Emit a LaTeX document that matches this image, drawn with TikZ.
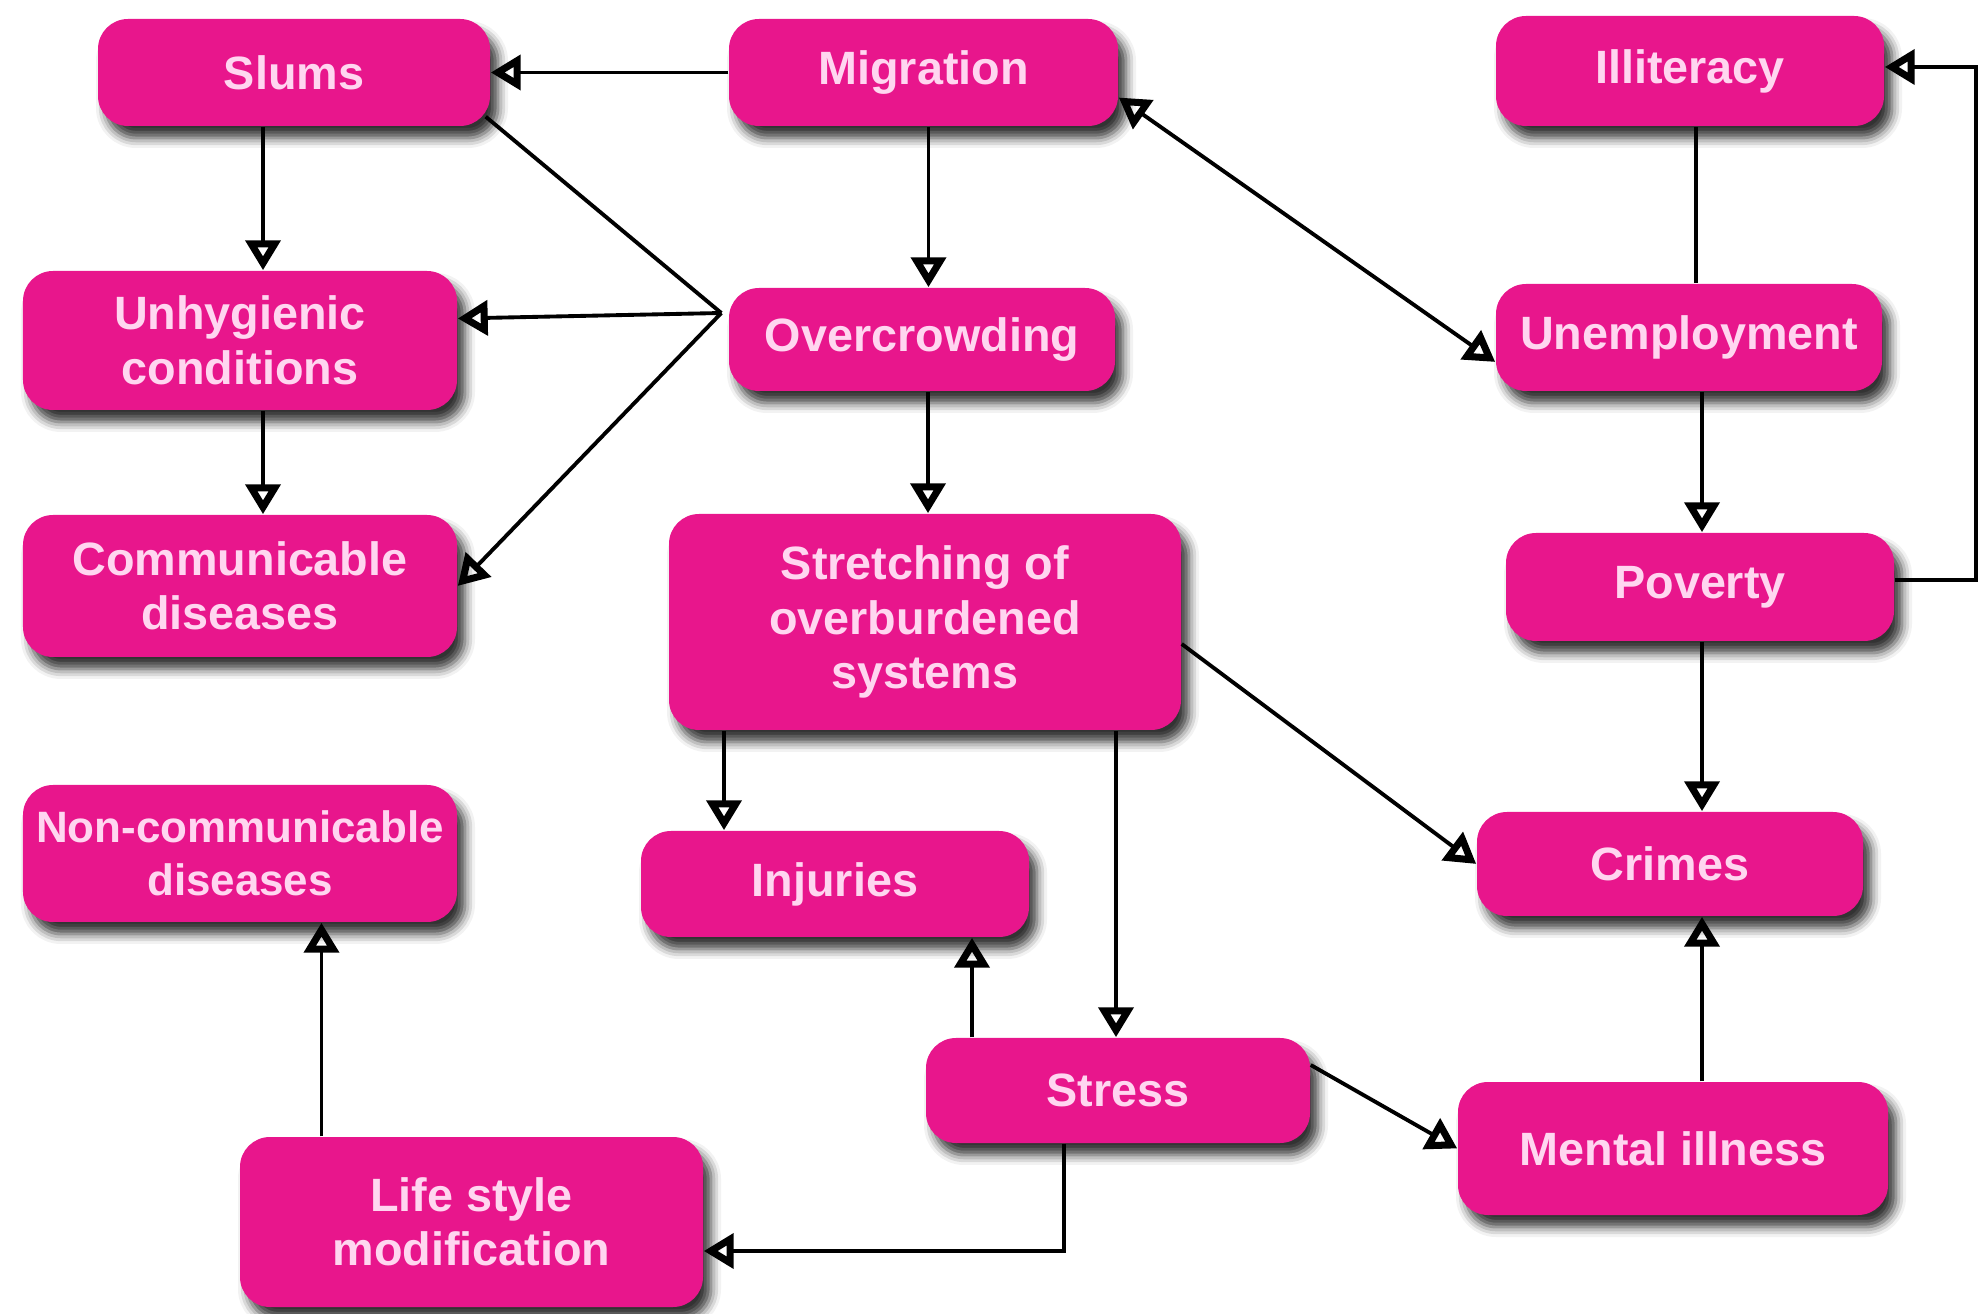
\documentclass[tikz,border=0pt]{standalone}
\usepackage{fontspec}
\setmainfont{Liberation Sans}
\usetikzlibrary{arrows.meta,shadows.blur,calc}
\definecolor{boxpink}{RGB}{232,22,140}
\definecolor{textpink}{RGB}{255,214,240}

\begin{document}
\begin{tikzpicture}[
            >={Triangle[open,length=0.3cm,width=0.34cm,line width=2pt]},
            box/.style={fill=boxpink,rounded corners=0.3cm,text=textpink,align=center,inner sep=0pt,
                font=\fontsize{13.3}{15.5}\selectfont\bfseries,
                blur shadow={shadow xshift=0.08cm,shadow yshift=-0.12cm,shadow blur radius=0.1cm,shadow opacity=80}},
            link/.style={line width=1.1pt}]
            \useasboundingbox (0,0) rectangle (19.8,13.13);

            \node[box,minimum width=3.92cm,minimum height=1.07cm] (slums) at (2.94,12.405) {Slums};
            \node[box,minimum width=3.89cm,minimum height=1.07cm] (migr) at (9.235,12.405) {Migration};
            \node[box,minimum width=3.88cm,minimum height=1.10cm] (illit) at (16.90,12.42) {Illiteracy};
            \node[box,minimum width=4.34cm,minimum height=1.39cm] (unhyg) at (2.40,9.725) {Unhygienic\\conditions};
            \node[box,minimum width=3.86cm,minimum height=1.03cm] (crowd) at (9.22,9.735) {Overcrowding};
            \node[box,minimum width=3.86cm,minimum height=1.07cm] (unemp) at (16.89,9.755) {Unemployment};
            \node[box,minimum width=4.34cm,minimum height=1.42cm] (commun) at (2.40,7.27) {Communicable\\diseases};
            \node[box,minimum width=5.12cm,minimum height=2.16cm] (stretch) at (9.25,6.91) {Stretching of\\overburdened\\systems};
            \node[box,minimum width=3.88cm,minimum height=1.08cm] (pov) at (17.00,7.26) {Poverty};
            \node[box,minimum width=4.34cm,minimum height=1.37cm,font=\fontsize{12.5}{15}\selectfont\bfseries] (noncomm) at (2.40,4.595) {Non-communicable\\diseases};
            \node[box,minimum width=3.88cm,minimum height=1.06cm] (injur) at (8.35,4.29) {Injuries};
            \node[box,minimum width=3.86cm,minimum height=1.04cm] (crimes) at (16.70,4.49) {Crimes};
            \node[box,minimum width=3.84cm,minimum height=1.05cm] (stress) at (11.18,2.225) {Stress};
            \node[box,minimum width=4.30cm,minimum height=1.33cm] (mental) at (16.73,1.645) {Mental illness};
            \node[box,minimum width=4.63cm,minimum height=1.70cm] (life) at (4.715,0.91) {Life style\\modification};

            \coordinate (hub) at ([xshift=-0.07cm,yshift=0.265cm]crowd.west);
            \coordinate (rim) at (19.76,7.33);

            \draw[link,->] (migr.west) to (slums.east);
            \draw[link,->] ([xshift=0.05cm]migr.south) to ([xshift=0.05cm]migr.south |- crowd.north);
            \draw[link,<->] ([yshift=-0.25cm]migr.east) to ([yshift=-0.245cm]unemp.west);
            \draw[link,->] ([xshift=-0.31cm]slums.south) to ([xshift=-0.31cm]slums.south |- unhyg.north);
            \draw[link,->] ([xshift=0.23cm]unhyg.south) to ([xshift=0.23cm]unhyg.south |- commun.north);

            \draw[link] (hub) to ([xshift=-0.05cm,yshift=0.1cm]slums.south east);
            \draw[link,->] (hub) to ([yshift=0.22cm]unhyg.east);
            \draw[link,->] (hub) to (commun.east);
            \draw[link,->] ([xshift=0.06cm]crowd.south) to ([xshift=0.06cm]crowd.south |- stretch.north);

            \draw[link] ([xshift=0.06cm]illit.south) to ([xshift=0.06cm]illit.south |- unemp.north);
            \draw[link,->] ([xshift=0.13cm]unemp.south) to ([xshift=0.13cm]unemp.south |- pov.north);
            \draw[link,->] ([yshift=0.07cm]pov.east) -- (rim) |- ([yshift=0.04cm]illit.east);
            \draw[link,->] ([xshift=0.02cm]pov.south) to ([xshift=0.02cm]pov.south |- crimes.north);

            \draw[link,->] ([yshift=-0.22cm]stretch.east) to (crimes.west);
            \draw[link,->] ([xshift=-2.01cm]stretch.south) to ([xshift=-2.01cm]stretch.south |- injur.north);
            \draw[link,->] ([xshift=1.91cm]stretch.south) to ([xshift=1.91cm]stretch.south |- stress.north);
            \draw[link,->] ([xshift=-1.46cm]stress.north) to ([xshift=-1.46cm]stress.north |- injur.south);
            \draw[link,->] ([yshift=0.255cm]stress.east) to (mental.west);
            \draw[link,->] ([xshift=0.29cm]mental.north) to ([xshift=0.29cm]mental.north |- crimes.south);
            \draw[link,->] ([xshift=-0.54cm]stress.south) |- ([yshift=-0.29cm]life.east);
            \draw[link,->] ([xshift=-1.50cm]life.north) to ([xshift=-1.50cm]life.north |- noncomm.south);
        \end{tikzpicture}
\end{document}
